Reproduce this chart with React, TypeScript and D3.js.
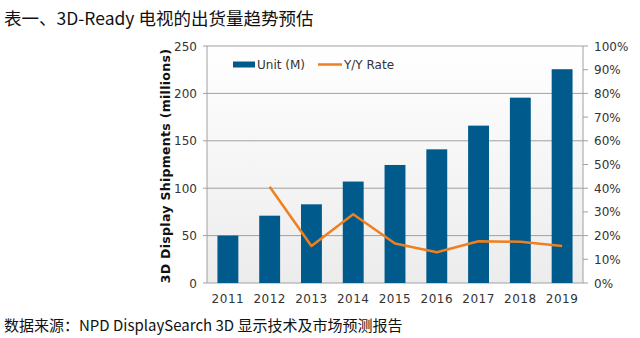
import React from "react";
import * as d3 from "d3";

const years = ["2011","2012","2013","2014","2015","2016","2017","2018","2019"];
const units = [50, 71, 83, 107, 124.5, 141, 166, 195.5, 225.5];
const rateYears = ["2012","2013","2014","2015","2016","2017","2018","2019"];
const rates = [40.6, 15.6, 29, 16.7, 13, 17.6, 17.4, 15.6];
const leftTicks = [0, 50, 100, 150, 200, 250];
const rightTicks = [0, 10, 20, 30, 40, 50, 60, 70, 80, 90, 100];

export default function App() {
  const W = 640, H = 338;
  const left = 207, right = 583, top = 46, bottom = 283;
  const x = d3.scaleBand().domain(years).range([left, right]).paddingInner(0.5).paddingOuter(0.25);
  const yL = d3.scaleLinear().domain([0, 250]).range([bottom, top]);
  const yR = d3.scaleLinear().domain([0, 100]).range([bottom, top]);
  const line = d3.line<number>()
    .x((_, i) => (x(rateYears[i]) as number) + x.bandwidth() / 2)
    .y((d) => yR(d));
  const font = "DejaVu Sans, Verdana, sans-serif";
  const cjk = "'Noto Sans CJK SC', sans-serif";
  return (
    <svg width={W} height={H} style={{ position: "absolute", left: 0, top: 0, background: "#fff" }}>
      <defs>
        <linearGradient id="bg" x1="0" y1="0" x2="0" y2="1">
          <stop offset="0" stopColor="#ffffff" />
          <stop offset="1" stopColor="#ececec" />
        </linearGradient>
      </defs>
      <text x={4} y={25} fontFamily={cjk} fontSize={17.5} fill="#111">表一、3D-Ready 电视的出货量趋势预估</text>
      <rect x={left} y={top} width={right - left} height={bottom - top} fill="url(#bg)" />
      {leftTicks.map((t) => (
        <g key={t}>
          <line x1={left - 4} x2={right} y1={yL(t)} y2={yL(t)} stroke="#a0a0a0" strokeWidth={1} />
          <text x={197} y={yL(t) + 4.5} textAnchor="end" fontFamily={font} fontSize={12} fill="#333">{t}</text>
        </g>
      ))}
      <line x1={left} x2={left} y1={top} y2={bottom} stroke="#a0a0a0" />
      <line x1={right} x2={right} y1={top} y2={bottom} stroke="#a0a0a0" />
      {rightTicks.map((t) => (
        <g key={t}>
          <line x1={right} x2={right + 5} y1={yR(t)} y2={yR(t)} stroke="#a0a0a0" />
          <text x={594} y={yR(t) + 4.5} fontFamily={font} fontSize={12} fill="#333">{t}%</text>
        </g>
      ))}
      {years.map((yr, i) => (
        <rect key={yr} x={x(yr)} y={yL(units[i])} width={x.bandwidth()} height={bottom - yL(units[i])} fill="#005a8c" />
      ))}
      <path d={line(rates) || ""} fill="none" stroke="#f07f1e" strokeWidth={2.5} strokeLinejoin="round" />
      {years.map((yr) => (
        <text key={yr} x={(x(yr) as number) + x.bandwidth() / 2} y={303} textAnchor="middle" fontFamily={font} fontSize={12} fill="#333" letterSpacing={0.5}>{yr}</text>
      ))}
      <text transform={`translate(170,166) rotate(-90)`} textAnchor="middle" fontFamily={font} fontSize={12.5} fontWeight="bold" fill="#111" letterSpacing={0.3}>3D Display  Shipments  (millions)</text>
      <rect x={233} y={61.5} width={22} height={6} fill="#005a8c" />
      <text x={257} y={69} fontFamily={font} fontSize={12} fill="#333">Unit (M)</text>
      <line x1={318} x2={342} y1={64.5} y2={64.5} stroke="#f07f1e" strokeWidth={2.5} />
      <text x={344} y={69} fontFamily={font} fontSize={12} fill="#333">Y/Y Rate</text>
      <text x={4} y={331} fontFamily={cjk} fontSize={15} fill="#111">数据来源：NPD DisplaySearch 3D 显示技术及市场预测报告</text>
    </svg>
  );
}
